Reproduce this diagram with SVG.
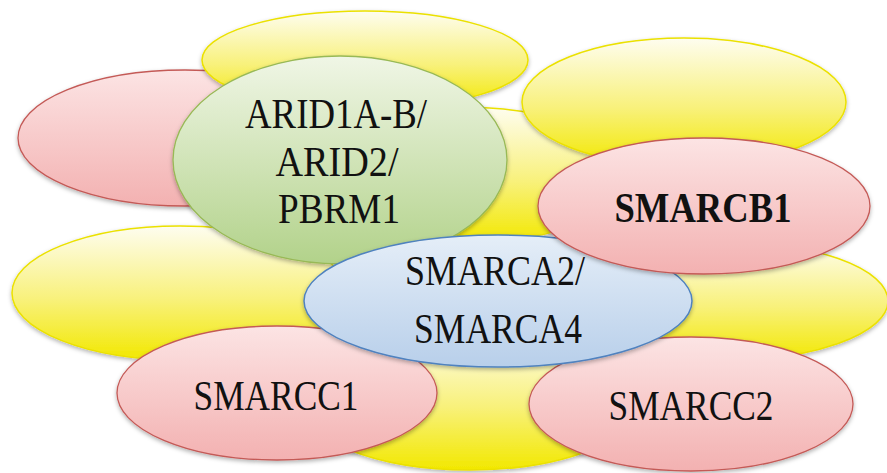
<svg xmlns="http://www.w3.org/2000/svg" width="887" height="473" viewBox="0 0 887 473">
<defs>
<linearGradient id="gy" x1="0" y1="0" x2="0" y2="1"><stop offset="0" stop-color="#fefdf0"/><stop offset="0.55" stop-color="#f8f17a"/><stop offset="1" stop-color="#f2e800"/></linearGradient>
<linearGradient id="gr" x1="0" y1="0" x2="0" y2="1"><stop offset="0" stop-color="#fce4e4"/><stop offset="1" stop-color="#f3b1b1"/></linearGradient>
<linearGradient id="gg" x1="0" y1="0" x2="0" y2="1"><stop offset="0" stop-color="#f0f6e6"/><stop offset="1" stop-color="#b2d28a"/></linearGradient>
<linearGradient id="gb" x1="0" y1="0" x2="0" y2="1"><stop offset="0" stop-color="#e5eef8"/><stop offset="1" stop-color="#b8cfea"/></linearGradient>
<filter id="sh" x="-10%" y="-10%" width="120%" height="130%"><feDropShadow dx="0" dy="2" stdDeviation="2" flood-color="#000" flood-opacity="0.3"/></filter>
</defs>
<style>
.y{fill:url(#gy);stroke:#ebe100;stroke-width:1.5;filter:url(#sh)}
.r{fill:url(#gr);stroke:#c45a57;stroke-width:1.3;filter:url(#sh)}
.g{fill:url(#gg);stroke:#98b956;stroke-width:1.3;filter:url(#sh)}
.b{fill:url(#gb);stroke:#4f82bf;stroke-width:1.5;filter:url(#sh)}
text{font-family:"Liberation Serif","Times New Roman",serif;font-size:42px;fill:#111;text-anchor:middle}
.bold{font-weight:bold}
</style>
<rect width="887" height="473" fill="#fff"/>
<g id="yellow-center"><ellipse class="y" cx="460" cy="175" rx="170" ry="68"/></g>
<g id="yellow-bottom"><ellipse class="y" cx="470" cy="400" rx="172" ry="70"/></g>
<g id="yellow-left"><ellipse class="y" cx="180" cy="293" rx="168" ry="67"/></g>
<g id="yellow-right"><ellipse class="y" cx="718" cy="301" rx="170" ry="60"/></g>
<g id="red-left"><ellipse class="r" cx="185" cy="138" rx="167" ry="68"/></g>
<g id="yellow-top"><ellipse class="y" cx="365" cy="60" rx="163" ry="49"/></g>
<g id="yellow-topright"><ellipse class="y" cx="684" cy="102" rx="162" ry="64"/></g>
<g id="arid"><ellipse class="g" cx="340" cy="160" rx="167" ry="104"/>
<text x="336" y="128" textLength="182" lengthAdjust="spacingAndGlyphs">ARID1A-B/</text>
<text x="337" y="176" textLength="123" lengthAdjust="spacingAndGlyphs">ARID2/</text>
<text x="339" y="223" textLength="122" lengthAdjust="spacingAndGlyphs">PBRM1</text></g>
<g id="smarcc1"><ellipse class="r" cx="277" cy="393" rx="160" ry="67"/>
<text x="276" y="410" textLength="165" lengthAdjust="spacingAndGlyphs">SMARCC1</text></g>
<g id="smarcc2"><ellipse class="r" cx="691" cy="404" rx="162" ry="67"/>
<text x="691" y="420" textLength="165" lengthAdjust="spacingAndGlyphs">SMARCC2</text></g>
<g id="smarca"><ellipse class="b" cx="498" cy="301" rx="194" ry="66"/>
<text x="495" y="285" textLength="180" lengthAdjust="spacingAndGlyphs">SMARCA2/</text>
<text x="498" y="343" textLength="168" lengthAdjust="spacingAndGlyphs">SMARCA4</text></g>
<g id="smarcb1"><ellipse class="r" cx="704" cy="206" rx="166" ry="68"/>
<text class="bold" x="703" y="222" textLength="177" lengthAdjust="spacingAndGlyphs">SMARCB1</text></g>
<g id="connectors"/>
</svg>
